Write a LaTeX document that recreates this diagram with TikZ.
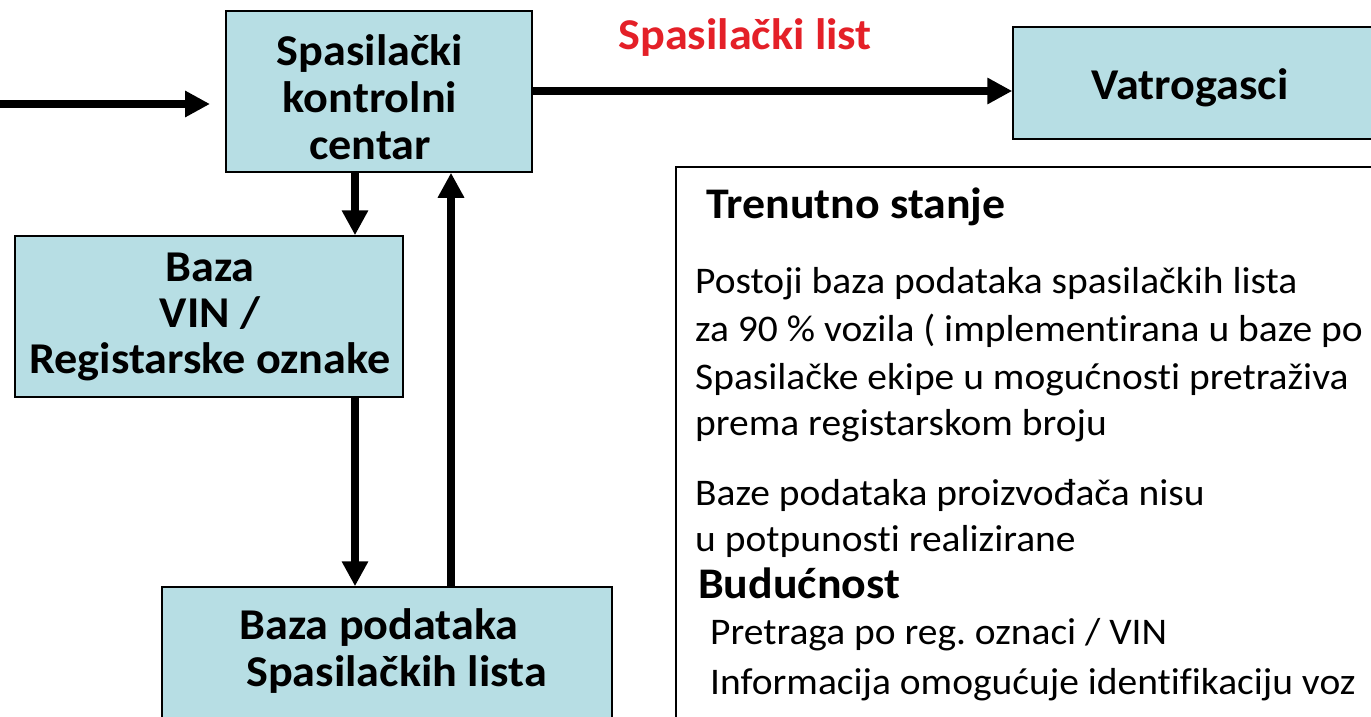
\documentclass[tikz,border=0pt]{standalone}
\usepackage{fontspec}
\setmainfont{Carlito}[FakeStretch=1.05, Ligatures=NoCommon]
\usetikzlibrary{arrows.meta}
\definecolor{boxfill}{RGB}{183,222,228}
\definecolor{redlab}{RGB}{228,32,40}
\frenchspacing
\begin{document}
\begin{tikzpicture}[x=1pt,y=-1pt,
  box/.style={draw=black, line width=1.5pt, fill=boxfill, inner sep=0pt},
  lab/.style={font=\fontsize{44}{47}\selectfont\bfseries, align=center, inner sep=0pt},
  arr/.style={line width=8.5pt, -{Triangle[length=25pt,width=25pt]}},
  body/.style={font=\fontsize{37.6}{40}\selectfont, anchor=base west, inner sep=0pt},
  head/.style={font=\fontsize{43.7}{46}\selectfont\bfseries, anchor=base west, inner sep=0pt}]
\clip (0,0) rectangle (1371,717);
\fill[white] (0,0) rectangle (1371,717);

% boxes
\node[box, minimum width=306pt, minimum height=161pt] (cc) at (379,91.5) {};
\node[box, minimum width=380pt, minimum height=112pt] (vat) at (1203,83) {};
\node[box, minimum width=388pt, minimum height=161pt] (vin) at (209,316.5) {};
\node[box, minimum width=450pt, minimum height=173pt] (db) at (387,673.5) {};
\node[draw=black, line width=1.5pt, fill=white, minimum width=720pt, minimum height=600pt, inner sep=0pt] (info) at (1036,467) {};

% box labels
\node[lab] (cct) at (370,97) {Spasilački\\kontrolni\\centar};
\node[lab] (vatt) at (1190,88) {Vatrogasci};
\node[lab, font=\fontsize{44}{46}\selectfont\bfseries] (vint) at (210,317) {Baza\\VIN /\\Registarske oznake};
\node[lab, align=left] (dbt) at (393,651) {Baza podataka\\\hspace{7pt}Spasilačkih lista};
\node[lab, text=redlab] (listt) at (745,38) {Spasilački list};

% connectors
\coordinate (src) at (0,104);
\coordinate (srcend) at (210,104);
\draw[arr] (src) -- (srcend);
\draw[arr] (cc.east |- 0,91) -- (vat.west |- 0,91);
\draw[arr] (cc.south -| 355,0) -- (vin.north -| 355,0);
\draw[arr] (vin.south -| 355,0) -- (db.north -| 355,0);
\draw[arr] (db.north -| 451,0) -- (cc.south -| 451,0);

% info text
\node[head] (h1) at (706,218.5) {Trenutno stanje};
\node[body] (l1) at (695,293.5) {Postoji baza podataka spasilačkih lista};
\node[body] (l2) at (695,341.5) {za 90 \% vozila ( implementirana u baze po};
\node[body] (l3) at (695,389.5) {Spasilačke ekipe u mogućnosti pretraživa};
\node[body] (l4) at (695,435) {prema registarskom broju};
\node[body] (l5) at (695,505.5) {Baze podataka proizvođača nisu};
\node[body] (l6) at (695,551.5) {u potpunosti realizirane};
\node[head] (h2) at (698,598.5) {Budućnost};
\node[body] (l7) at (710,644.5) {Pretraga po reg. oznaci / VIN};
\node[body] (l8) at (710,694.5) {Informacija omogućuje identifikaciju voz};
\end{tikzpicture}
\end{document}
